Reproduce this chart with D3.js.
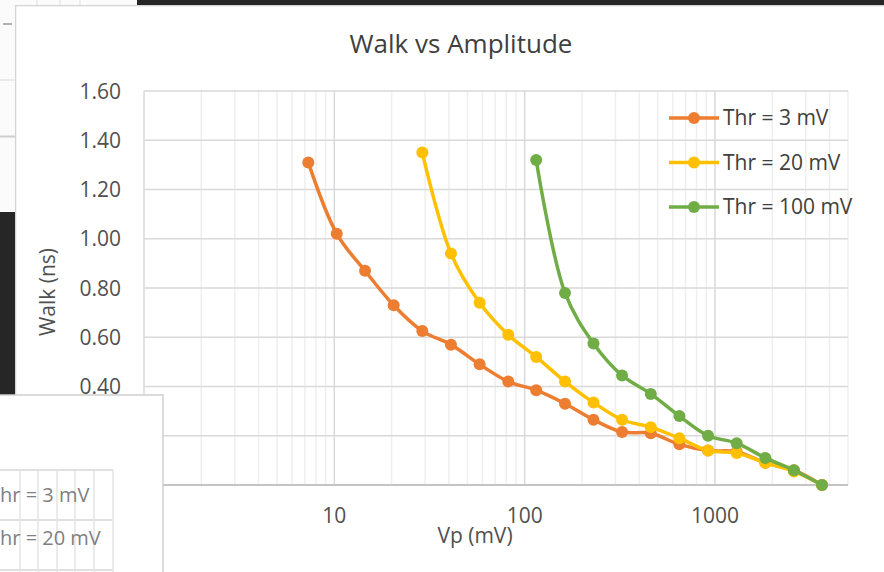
<!DOCTYPE html>
<html>
<head>
<meta charset="utf-8">
<script src="https://cdn.jsdelivr.net/npm/d3@7/dist/d3.min.js"></script>
<style>
  html, body { margin: 0; padding: 0; background: #ffffff; }
  svg { display: block; font-family: "Open Sans", "Noto Sans", sans-serif; }
</style>
</head>
<body>
<svg id="chart" width="884" height="572"></svg>
<script>
// Pulse amplitude (mV) at each measurement step
const vpThr3   = [7.3, 10.3, 14.5, 20.5, 29, 41, 58, 82, 115, 163, 230, 325, 460, 650, 920, 1300, 1840, 2600, 3650];
const vpThr20  = [29, 41, 58, 82, 115, 163, 230, 325, 460, 650, 920, 1300, 1840, 2600, 3650];
const vpThr100 = [115, 163, 230, 325, 460, 650, 920, 1300, 1840, 2600, 3650];

// Time walk (ns) for each discriminator threshold
const walkThr3   = [1.31, 1.02, 0.87, 0.73, 0.625, 0.57, 0.49, 0.42, 0.385, 0.33, 0.265, 0.215, 0.21, 0.165, 0.14, 0.135, 0.09, 0.06, 0.00];
const walkThr20  = [1.35, 0.94, 0.74, 0.61, 0.52, 0.42, 0.335, 0.265, 0.235, 0.19, 0.14, 0.13, 0.09, 0.055, 0.00];
const walkThr100 = [1.32, 0.78, 0.575, 0.445, 0.37, 0.28, 0.20, 0.17, 0.11, 0.06, 0.00];

const seriesNames = ["Thr = 3 mV", "Thr = 20 mV", "Thr = 100 mV"];
const seriesColors = ["#ED7D31", "#FFC000", "#70AD47"];

const yTicks = [0, 0.2, 0.4, 0.6, 0.8, 1.0, 1.2, 1.4, 1.6];
const xTicks = [1, 10, 100, 1000];

const chartTitle = "Walk vs Amplitude";
const xTitle = "Vp (mV)";
const yTitle = "Walk (ns)";

// Spreadsheet table rows peeking out beside the chart
const sheetRows = ["Thr = 3 mV", "Thr = 20 mV"];

const series = [
  { name: seriesNames[0], color: seriesColors[0], xs: vpThr3,   ys: walkThr3 },
  { name: seriesNames[1], color: seriesColors[1], xs: vpThr20,  ys: walkThr20 },
  { name: seriesNames[2], color: seriesColors[2], xs: vpThr100, ys: walkThr100 }
];

const svg = d3.select("#chart");

// ---- chart window ----
svg.append("rect").attr("x", 0).attr("y", 0).attr("width", 884).attr("height", 572).attr("fill", "#ffffff");

const plot = { left: 144, right: 848, top: 91, bottom: 485 };

const x = d3.scaleLog().domain([1, 5000]).range([plot.left, plot.right]);
const y = d3.scaleLinear().domain([0, 1.6]).range([plot.bottom, plot.top]);

// minor vertical gridlines (2..9 in each decade)
const minorX = [];
[1, 10, 100, 1000].forEach(d => {
  for (let k = 2; k <= 9; k++) { const v = d * k; if (v <= 5000) minorX.push(v); }
});
svg.append("g").selectAll("line").data(minorX).join("line")
  .attr("x1", d => x(d)).attr("x2", d => x(d))
  .attr("y1", plot.top).attr("y2", plot.bottom)
  .attr("stroke", "#efefef").attr("stroke-width", 1.5);

// major vertical gridlines
svg.append("g").selectAll("line").data(xTicks).join("line")
  .attr("x1", d => x(d)).attr("x2", d => x(d))
  .attr("y1", plot.top).attr("y2", plot.bottom)
  .attr("stroke", "#d9d9d9").attr("stroke-width", 1.5);

// horizontal gridlines
svg.append("g").selectAll("line").data(yTicks.filter(d => d > 0)).join("line")
  .attr("x1", plot.left).attr("x2", plot.right)
  .attr("y1", d => y(d)).attr("y2", d => y(d))
  .attr("stroke", "#d9d9d9").attr("stroke-width", 1.5);

// horizontal axis line
svg.append("line")
  .attr("x1", plot.left).attr("x2", plot.right)
  .attr("y1", y(0)).attr("y2", y(0))
  .attr("stroke", "#c4c4c4").attr("stroke-width", 2);

// y tick labels
svg.append("g").selectAll("text").data(yTicks).join("text")
  .attr("x", 121).attr("y", d => y(d) + 7.5)
  .attr("text-anchor", "end")
  .attr("font-size", 21).attr("fill", "#505050")
  .text(d => d3.format(".2f")(d));

// x tick labels
svg.append("g").selectAll("text").data(xTicks).join("text")
  .attr("x", d => x(d)).attr("y", 523)
  .attr("text-anchor", "middle")
  .attr("font-size", 21).attr("fill", "#505050")
  .text(d => d3.format("d")(d));

// axis titles
svg.append("text")
  .attr("x", 475).attr("y", 543)
  .attr("text-anchor", "middle")
  .attr("font-size", 21).attr("fill", "#505050")
  .text(xTitle);

svg.append("text")
  .attr("transform", "translate(55,292) rotate(-90)")
  .attr("text-anchor", "middle")
  .attr("font-size", 21).attr("fill", "#505050")
  .text(yTitle);

// chart title
svg.append("text")
  .attr("x", 461).attr("y", 53)
  .attr("text-anchor", "middle")
  .attr("font-size", 26).attr("fill", "#404040")
  .text(chartTitle);

// ---- series: each one's line then its markers, in order ----
const line = d3.line()
  .x(d => x(d[0])).y(d => y(d[1]))
  .curve(d3.curveCatmullRom.alpha(0.5));

series.forEach(s => {
  const pts = s.xs.map((v, i) => [v, s.ys[i]]);
  const g = svg.append("g");
  g.append("path").datum(pts)
    .attr("d", line)
    .attr("fill", "none").attr("stroke", s.color)
    .attr("stroke-width", 3.5).attr("stroke-linejoin", "round");
  g.selectAll("circle").data(pts).join("circle")
    .attr("cx", d => x(d[0])).attr("cy", d => y(d[1]))
    .attr("r", 6).attr("fill", s.color);
});

// ---- legend ----
const legend = svg.append("g");
series.forEach((s, i) => {
  const cy = 118 + i * 44.5;
  legend.append("line")
    .attr("x1", 669).attr("x2", 719).attr("y1", cy).attr("y2", cy)
    .attr("stroke", s.color).attr("stroke-width", 3.5);
  legend.append("circle").attr("cx", 694).attr("cy", cy).attr("r", 6).attr("fill", s.color);
  legend.append("text")
    .attr("x", 723).attr("y", cy + 7)
    .attr("font-size", 21).attr("fill", "#404040")
    .text(s.name);
});

// ---- surrounding desktop ----
// window frame edge
svg.append("line").attr("x1", 15).attr("x2", 884).attr("y1", 5.5).attr("y2", 5.5)
  .attr("stroke", "#d4d4d4").attr("stroke-width", 1.5);
svg.append("line").attr("x1", 15.5).attr("x2", 15.5).attr("y1", 5).attr("y2", 395)
  .attr("stroke", "#d4d4d4").attr("stroke-width", 1.5);

// dark title bar strip at the top
svg.append("rect").attr("x", 137).attr("y", 0).attr("width", 747).attr("height", 5).attr("fill", "#262626");

// left strip: sheet cells above, dark pane below
const left = svg.append("g");
left.append("rect").attr("x", 0).attr("y", 0).attr("width", 15).attr("height", 212).attr("fill", "#fbfbfb");
left.append("rect").attr("x", 0).attr("y", 0).attr("width", 137).attr("height", 5).attr("fill", "#fbfbfb");
[37, 60, 80].forEach(v => left.append("line").attr("x1", v).attr("x2", v).attr("y1", 0).attr("y2", 5)
  .attr("stroke", "#e2e2e2").attr("stroke-width", 1.2));
left.append("line").attr("x1", 3).attr("x2", 12).attr("y1", 24).attr("y2", 24)
  .attr("stroke", "#b0b0b0").attr("stroke-width", 2);
left.append("line").attr("x1", 0).attr("x2", 15).attr("y1", 80).attr("y2", 80)
  .attr("stroke", "#e0e0e0").attr("stroke-width", 1.2);
left.append("line").attr("x1", 0).attr("x2", 15).attr("y1", 136.5).attr("y2", 136.5)
  .attr("stroke", "#cfcfcf").attr("stroke-width", 2);
left.append("rect").attr("x", 0).attr("y", 212).attr("width", 15).attr("height", 183).attr("fill", "#262626");

// overlapping sheet panel at the lower left
const panel = svg.append("g");
panel.append("rect").attr("x", -2).attr("y", 395).attr("width", 165).attr("height", 180)
  .attr("fill", "#ffffff").attr("stroke", "#cfcfcf").attr("stroke-width", 1.5);
[470, 520, 570].forEach(v => panel.append("line").attr("x1", 0).attr("x2", 113).attr("y1", v).attr("y2", v)
  .attr("stroke", "#d6d6d6").attr("stroke-width", 1.5));
[20, 38, 57, 75, 94, 113].forEach(v => panel.append("line").attr("x1", v).attr("x2", v).attr("y1", 470).attr("y2", 572)
  .attr("stroke", "#e4e4e4").attr("stroke-width", 1.5));
sheetRows.forEach((t, i) => {
  panel.append("text")
    .attr("x", -11).attr("y", 502 + i * 43)
    .attr("font-size", 20).attr("fill", "#808080")
    .text(t);
});
</script>
</body>
</html>
